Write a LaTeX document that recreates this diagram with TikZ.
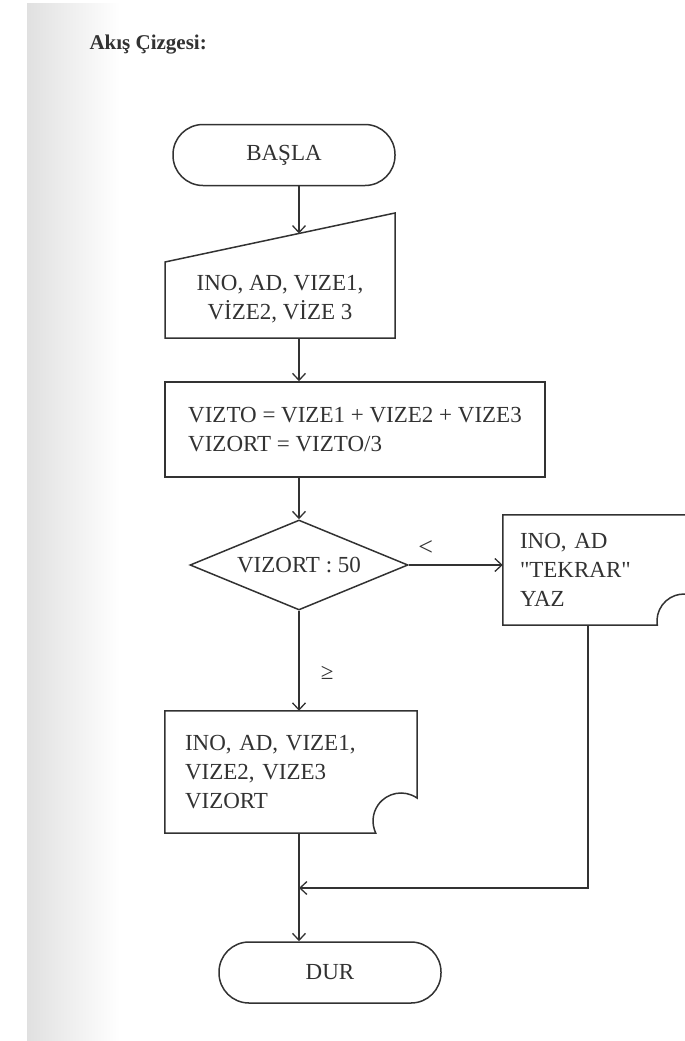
\documentclass[tikz,border=0pt]{standalone}
\usepackage{fontspec}
\setmainfont{Liberation Serif}
\newfontfamily\duzyazi{Liberation Serif}
\usetikzlibrary{arrows.meta,positioning,shapes.geometric,calc}
\definecolor{inkgray}{RGB}{50,50,50}
\tikzset{
  akis/.style={draw=inkgray, line width=1.5pt},
  arr/.style={akis, -{Straight Barb[length=7pt,width=13pt,line width=1.3pt]}},
  termbox/.style={akis, rounded corners=30pt, minimum width=222pt, minimum height=61pt},
  procbox/.style={akis, align=left, minimum width=380pt, minimum height=95pt},
  karar/.style={akis, shape=diamond, aspect=2.4, inner sep=0pt, minimum width=218pt, minimum height=90pt},
  belge/.style={align=left, inner ysep=0pt},
  lbl/.style={inner sep=0pt}
}

\begin{document}
\begin{tikzpicture}[x=1pt, y=1pt, font=\fontsize{23}{29}\selectfont, text=inkgray]
\useasboundingbox (0,0) rectangle (685,-1041);
\clip (0,0) rectangle (685,-1041);
\shade[left color=black!12, right color=white] (27,-4) rectangle (120,-1041);

\node[font=\fontsize{21}{25}\selectfont\bfseries, anchor=west] (baslik) at (86,-45) {Akış Çizgesi:};

\coordinate (col) at (299,0);
\node[termbox] (basla) at (284,-155) {BAŞLA};

% elle giris
\coordinate (inTop) at (299,-233.5);
\coordinate (inBot) at (299,-338);
\draw[akis] (165,-262) -- (395,-213) -- (395,-338) -- (165,-338) -- cycle;
\node[align=center] (giris) at (280,-299) {INO, AD, VIZE1,\\VİZE2, VİZE 3};

\node[procbox] (islem) at (355,-429.5) {VIZTO = VIZE1 + VIZE2 + VIZE3\\VIZORT = VIZTO/3};

\node[karar] (karar) at (299,-565) {VIZORT : 50};

\node[belge, minimum width=197pt, minimum height=110pt, text width=163pt, inner xsep=17pt] (tekrar) at (601.5,-570) {INO, AD\\{\duzyazi"TEKRAR"}\\YAZ};
\draw[akis] (tekrar.north west) -- (tekrar.north east) -- (700,-599.3)
  arc[start angle=53.6, end angle=188.5, radius=27] -- (tekrar.south west) -- cycle;

\node[belge, minimum width=252pt, minimum height=122pt, text width=212pt, inner xsep=20pt] (sonuc) at (291,-772) {INO, AD, VIZE1,\\VIZE2, VIZE3\\VIZORT};
\draw[akis] (sonuc.north west) -- (sonuc.north east) -- (417,-798)
  arc[start angle=55.2, end angle=205.4, radius=28] -- (sonuc.south west) -- cycle;

\node[termbox] (dur) at (330,-972.5) {DUR};

\draw[arr] (basla.south -| col) -- (inTop);
\draw[arr] (inBot) -- (islem.north -| col);
\draw[arr] (islem.south -| col) -- (karar.north);
\draw[arr] (karar.east) -- (karar.east -| tekrar.west)
  node[lbl, pos=0.18, above=9pt, font=\fontsize{26}{29}\selectfont] (kucuk) {<};
\draw[arr] (karar.south) -- (karar.south |- sonuc.north)
  node[lbl, pos=0.62, right=21pt] (buyuk) {≥};
\draw[arr] (sonuc.south -| col) -- (dur.north -| col);

\coordinate (ret) at (588,-888);
\coordinate (join) at (299,-888);
\draw[arr] (tekrar.south -| ret) |- (join);
\end{tikzpicture}
\end{document}
